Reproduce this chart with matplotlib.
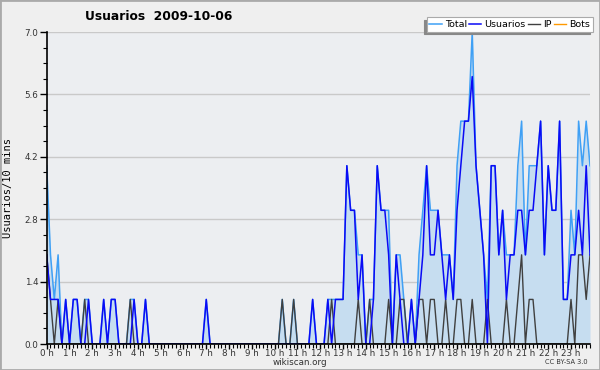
import matplotlib
matplotlib.use("Agg")
import matplotlib.pyplot as plt
from matplotlib.patches import Rectangle
import numpy as np

# editors per 10-minute slot, 2009-10-06 (144 slots, one row per hour)
total = [
    4, 2, 1, 2, 0, 1,   # 0 h
    0, 1, 1, 0, 1, 1,   # 1 h
    0, 0, 0, 1, 0, 1,   # 2 h
    1, 0, 0, 0, 1, 1,   # 3 h
    0, 0, 1, 0, 0, 0,   # 4 h
    0, 0, 0, 0, 0, 0,   # 5 h
    0, 0, 0, 0, 0, 0,   # 6 h
    1, 0, 0, 0, 0, 0,   # 7 h
    0, 0, 0, 0, 0, 0,   # 8 h
    0, 0, 0, 0, 0, 0,   # 9 h
    0, 0, 1, 0, 0, 1,   # 10 h
    0, 0, 0, 0, 1, 0,   # 11 h
    0, 0, 1, 1, 1, 1,   # 12 h
    1, 4, 3, 3, 2, 2,   # 13 h
    0, 1, 1, 4, 3, 3,   # 14 h
    3, 0, 2, 2, 1, 0,   # 15 h
    1, 0, 2, 3, 4, 3,   # 16 h
    3, 3, 2, 2, 2, 1,   # 17 h
    4, 5, 5, 5, 7, 4,   # 18 h
    3, 2, 1, 4, 4, 2,   # 19 h
    3, 2, 2, 2, 4, 5,   # 20 h
    2, 4, 4, 4, 5, 2,   # 21 h
    4, 3, 3, 5, 1, 1,   # 22 h
    3, 2, 5, 4, 5, 4,   # 23 h
]
usuarios = [
    2, 1, 1, 1, 0, 1,
    0, 1, 1, 0, 0, 1,
    0, 0, 0, 1, 0, 1,
    1, 0, 0, 0, 0, 1,
    0, 0, 1, 0, 0, 0,
    0, 0, 0, 0, 0, 0,
    0, 0, 0, 0, 0, 0,
    1, 0, 0, 0, 0, 0,
    0, 0, 0, 0, 0, 0,
    0, 0, 0, 0, 0, 0,
    0, 0, 0, 0, 0, 0,
    0, 0, 0, 0, 1, 0,
    0, 0, 1, 0, 1, 1,
    1, 4, 3, 3, 1, 2,
    0, 0, 1, 4, 3, 3,
    2, 0, 2, 1, 0, 0,
    1, 0, 1, 2, 4, 2,
    2, 3, 2, 1, 2, 1,
    3, 4, 5, 5, 6, 4,
    3, 2, 0, 4, 4, 2,
    3, 1, 2, 2, 3, 3,
    2, 3, 3, 4, 5, 2,
    4, 3, 3, 5, 1, 1,
    2, 2, 3, 2, 4, 2,
]
ip = [
    2, 1, 0, 1, 0, 0,
    0, 0, 0, 0, 1, 0,
    0, 0, 0, 0, 0, 0,
    0, 0, 0, 0, 1, 0,
    0, 0, 0, 0, 0, 0,
    0, 0, 0, 0, 0, 0,
    0, 0, 0, 0, 0, 0,
    0, 0, 0, 0, 0, 0,
    0, 0, 0, 0, 0, 0,
    0, 0, 0, 0, 0, 0,
    0, 0, 1, 0, 0, 1,
    0, 0, 0, 0, 0, 0,
    0, 0, 0, 1, 0, 0,
    0, 0, 0, 0, 1, 0,
    0, 1, 0, 0, 0, 0,
    1, 0, 0, 1, 1, 0,
    0, 0, 1, 1, 0, 1,
    1, 0, 0, 1, 0, 0,
    1, 1, 0, 0, 1, 0,
    0, 0, 1, 0, 0, 0,
    0, 1, 0, 0, 1, 2,
    0, 1, 1, 0, 0, 0,
    0, 0, 0, 0, 0, 0,
    1, 0, 2, 2, 1, 2,
]
bots = [0] * 144
hour_labels = [f"{h} h" for h in range(24)]

c_total = "#3fa0f5"
c_fill = "#c6ddf0"
c_user = "#0a0af5"
c_ip = "#404040"
c_bots = "#ff9900"

fig = plt.figure(figsize=(6, 3.7), dpi=100, facecolor="#efefef")
ax = fig.add_axes([46.7 / 600, 1 - 344 / 370, (590 - 46.7) / 600, (344 - 32) / 370])
ax.set_facecolor("#eceef1")

x = np.arange(len(total))
ax.fill_between(x, total, 0, color=c_fill, lw=0, zorder=1)
ax.plot(x, bots, color=c_bots, lw=1, label="Bots", zorder=1.5)
ax.plot(x, total, color=c_total, lw=1.1, label="Total", zorder=2)
ax.plot(x, ip, color=c_ip, lw=1.0, label="IP", zorder=2.1)
ax.plot(x, usuarios, color=c_user, lw=1.1, label="Usuarios", zorder=2.2)

ax.set_xlim(0, len(total) - 1)
ax.set_ylim(0, 7.0)
yt = np.arange(0, 7.01, 1.4)
ax.set_yticks(yt)
ax.set_yticklabels([f"{v:.1f}" for v in yt])
ax.set_yticks(np.arange(0, 7.01, 0.35), minor=True)
ax.set_xticks(np.arange(0, 144, 6))
ax.set_xticklabels(hour_labels)
ax.set_xticks(np.arange(0, 144, 1), minor=True)
ax.tick_params(axis="both", which="major", labelsize=6.3, colors="black",
               labelcolor="#333333", length=5, width=1, pad=1)
ax.tick_params(axis="x", which="major", length=3.5, pad=0)
ax.tick_params(axis="both", which="minor", length=3, width=0.8)
ax.grid(axis="y", color="#c9c9c9", lw=1)
ax.set_axisbelow(True)
for s in ("top", "right"):
    ax.spines[s].set_visible(False)
for s in ("left", "bottom"):
    ax.spines[s].set_linewidth(1.2)
    ax.spines[s].set_zorder(3)

ax.set_ylabel("Usuarios/10 mins", family="DejaVu Sans Mono", fontsize=7.5)
ax.yaxis.set_label_coords(-0.062, 0.5)

fig.text(85 / 600, 1 - 17 / 370, "Usuarios  2009-10-06", fontsize=8.8,
         fontweight="bold", va="center", ha="left")
fig.text(0.5, 1 - 362.5 / 370, "wikiscan.org", fontsize=6.3, ha="center",
         va="center", color="#333333")
fig.text(588 / 600, 1 - 361.5 / 370, "CC BY-SA 3.0", fontsize=4.8, ha="right",
         va="center", color="#333333")

handles, labels = ax.get_legend_handles_labels()
order = [labels.index(n) for n in ("Total", "Usuarios", "IP", "Bots")]
leg = fig.legend([handles[i] for i in order], [labels[i] for i in order],
                 loc="upper right", bbox_to_anchor=(593 / 600, 1 - 17 / 370),
                 ncol=4, fontsize=6.8, frameon=True, fancybox=False,
                 handlelength=1.3, handletextpad=0.35, columnspacing=0.2,
                 borderpad=0.3, borderaxespad=0,
                 shadow={"ox": -2, "oy": -2, "color": "#888888", "alpha": 1})
leg.get_frame().set_edgecolor("#aaaaaa")
leg.get_frame().set_linewidth(0.8)
leg.get_frame().set_facecolor("white")

fig.patches.append(Rectangle((0, 0), 1, 1, transform=fig.transFigure,
                             fill=False, edgecolor="#aaaaaa", lw=2))

fig.savefig("out.png", dpi=100, facecolor=fig.get_facecolor())
